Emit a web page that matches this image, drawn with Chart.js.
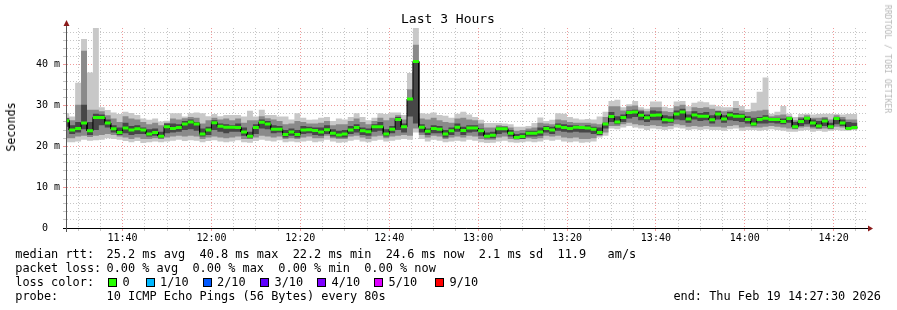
<!DOCTYPE html>
<html>
<head>
<meta charset="utf-8">
<title>Last 3 Hours</title>
<script src="https://cdn.jsdelivr.net/npm/chart.js@4.4.1/dist/chart.umd.min.js"></script>
<style>
  html, body { margin: 0; padding: 0; background: #fff; }
  #wrap { position: relative; width: 897px; height: 310px; overflow: hidden;
          font-family: 'DejaVu Sans Mono', monospace; color: #000; }
  #chart { position: absolute; left: 0; top: 0; }
  .t { position: absolute; white-space: pre; font-size: 11.9px; line-height: 14px; }
  .box { position: absolute; width: 7px; height: 7px; border: 1px solid #000; top: 278px; }
  #title { position: absolute; left: 0; width: 896px; top: 12px; text-align: center;
           font-size: 13px; line-height: 14px; }
  #ylabel { position: absolute; left: 11px; top: 127px; font-size: 11.7px; line-height: 14px;
            transform: translate(-50%, -50%) rotate(-90deg); white-space: pre; }
  #credit { position: absolute; left: 888px; top: 59px; font-size: 8.2px; line-height: 10px;
            color: #b8b8b8; transform: translate(-50%, -50%) rotate(90deg); white-space: pre; }
</style>
</head>
<body>
<div id="wrap">
  <canvas id="chart" width="897" height="310"></canvas>
  <div id="title">Last 3 Hours</div>
  <div id="ylabel">Seconds</div>
  <div id="credit">RRDTOOL / TOBI OETIKER</div>
  <div id="legend"></div>
</div>
<script>
// time axis in minutes of the day; one sample every 80 s
const START_MIN = 686 + 40 / 60;
const STEP_MIN = 80 / 60;
const X_MIN = 687.5;   // 11:27:30
const X_MAX = 867.5;   // 14:27:30
const Y_MAX = 49;

// median rtt per sample (ms)
const medianRtt = [
  26.3,24.0,24.4,25.7,23.8,27.1,27.1,25.7,24.3,23.4,
  24.5,24.0,24.3,24.0,23.0,23.4,22.5,24.8,24.4,24.6,
  25.5,26.0,25.5,23.0,24.0,25.8,24.9,24.7,24.7,24.6,
  23.5,22.5,24.6,25.9,25.5,24.2,24.2,22.9,23.5,22.9,
  24.0,24.1,23.9,23.5,24.1,23.2,22.8,23.0,24.0,24.6,
  23.8,23.6,24.8,24.8,23.0,24.2,26.6,24.8,31.6,40.8,
  24.7,23.7,24.4,24.2,23.0,23.8,24.7,23.9,24.5,24.5,
  23.8,22.5,22.7,24.3,24.3,23.2,22.2,22.4,23.2,23.2,
  23.5,24.4,24.0,24.9,24.6,24.4,24.7,24.6,24.5,24.2,
  23.4,25.5,27.3,26.0,27.1,28.3,28.4,27.6,27.0,27.6,
  27.7,26.5,26.4,27.9,28.4,26.7,27.7,27.4,27.4,26.5,
  27.9,26.7,27.7,27.4,27.4,26.6,25.5,26.6,26.9,26.6,
  26.6,26.1,26.8,24.8,26.1,26.9,25.7,25.0,26.2,24.8,
  26.8,25.7,24.4,24.6
];

// smoke: spread of the pings in each sample (ms)
const smokeOuterHi = [
  28.1,27.3,35.6,46.3,38.1,49.0,29.6,28.9,28.3,27.9,
  28.5,28.2,27.7,26.8,26.5,26.8,26.1,26.3,28.1,28.1,
  27.3,28.1,28.3,28.1,27.4,27.9,27.4,27.7,27.7,27.7,
  27.3,28.7,27.3,29.0,27.7,27.7,27.3,27.3,26.6,28.1,
  27.0,26.5,26.6,27.0,27.2,26.2,26.8,26.6,27.2,28.1,
  27.2,26.4,27.0,28.1,27.9,28.3,28.3,27.7,38.0,49.0,
  28.1,28.0,28.3,27.7,27.5,27.0,28.0,28.5,27.8,27.2,
  26.5,25.7,25.7,25.7,25.6,25.4,24.8,24.8,25.0,25.7,
  27.1,26.2,26.5,28.1,28.0,27.2,26.8,26.6,26.7,26.6,
  27.3,28.5,31.1,31.4,29.6,30.3,31.1,29.6,29.2,31.0,
  31.0,29.7,29.4,31.0,31.1,29.8,30.7,31.0,30.8,30.2,
  29.8,29.6,29.6,31.1,29.9,29.1,30.7,33.4,36.9,28.0,
  28.5,29.9,28.0,27.2,27.9,28.0,27.8,27.9,28.0,28.0,
  27.9,27.8,27.9,27.9
];
const smokeOuterLo = [
  21.0,21.0,21.2,21.6,21.4,21.5,21.6,22.0,21.8,21.6,
  21.3,21.0,21.3,20.8,21.0,21.2,21.0,21.2,21.4,21.6,
  21.3,21.5,21.4,21.0,21.3,21.5,21.2,21.0,21.2,21.5,
  21.0,20.9,21.3,21.6,21.4,21.2,21.5,21.0,21.2,21.0,
  21.2,21.4,21.0,21.2,21.6,21.2,20.9,21.0,21.4,21.6,
  21.2,21.0,21.4,21.6,21.2,21.4,21.6,21.8,21.6,23.4,
  21.8,21.2,21.6,21.4,21.0,21.2,21.4,21.2,21.6,21.4,
  21.0,20.8,20.9,21.2,21.4,21.0,20.9,21.0,21.2,21.0,
  21.2,21.6,21.4,21.6,21.2,21.0,21.2,20.9,21.0,21.2,
  22.2,22.6,24.4,24.2,24.6,25.0,24.6,24.4,24.0,24.4,
  24.2,24.0,24.2,24.6,24.4,24.0,24.2,24.0,24.2,24.0,
  24.0,23.8,24.2,24.4,23.8,24.0,24.0,23.8,24.0,24.2,
  24.0,23.8,23.6,23.6,23.8,24.0,23.6,23.8,23.6,23.8,
  24.0,23.8,23.8,24.0
];
const smokeMidHi = [
  27.0,26.4,30.2,43.4,29.0,29.0,28.6,27.6,26.8,26.0,
  27.4,26.8,26.6,26.0,25.4,25.8,25.2,25.8,26.8,26.6,
  26.9,27.2,27.0,25.6,26.4,27.0,26.6,26.8,26.4,26.8,
  25.8,26.4,26.4,27.4,26.9,26.6,26.2,25.4,25.6,26.2,
  26.0,25.6,25.6,25.8,26.2,25.2,25.4,25.4,26.2,26.8,
  26.0,25.4,26.2,27.0,26.4,27.0,27.6,26.6,34.0,44.9,
  26.8,26.6,27.0,26.4,26.0,25.8,26.8,27.0,26.6,26.4,
  25.6,24.6,24.6,25.2,25.0,24.6,23.8,24.0,24.4,24.6,
  25.8,25.6,25.4,26.6,26.4,26.0,25.8,25.8,25.8,25.6,
  25.4,27.2,29.8,29.8,28.8,29.8,30.0,29.0,28.6,29.6,
  29.6,28.6,28.4,29.8,30.2,28.6,29.6,29.4,29.6,29.2,
  28.8,28.6,28.8,29.4,28.8,28.4,28.6,28.8,29.0,27.4,
  27.6,27.8,27.4,26.4,27.2,27.6,27.0,27.0,27.2,26.6,
  27.6,27.2,26.6,26.6
];
const smokeMidLo = [
  22.0,22.0,22.4,22.6,22.3,22.6,22.8,23.0,22.8,22.4,
  22.2,21.8,22.2,21.8,21.8,22.0,21.8,22.2,22.4,22.6,
  22.4,22.6,22.4,21.8,22.2,22.4,22.2,22.0,22.2,22.4,
  21.8,21.8,22.2,22.6,22.4,22.2,22.4,21.8,22.0,21.8,
  22.2,22.4,22.0,22.0,22.6,22.0,21.8,21.8,22.4,22.6,
  22.2,21.8,22.4,22.6,22.0,22.4,22.6,22.8,22.6,24.4,
  22.8,22.2,22.6,22.4,21.8,22.2,22.4,22.2,22.6,22.4,
  21.8,21.6,21.6,22.2,22.4,21.8,21.6,21.8,22.0,21.8,
  22.0,22.6,22.4,22.6,22.2,22.0,22.2,21.8,21.8,22.0,
  22.6,23.4,25.0,25.0,25.4,25.8,25.4,25.2,25.0,25.2,
  25.0,24.8,25.0,25.4,25.2,24.8,25.0,24.8,25.0,24.8,
  24.8,24.6,25.0,25.2,24.6,24.8,24.6,24.6,24.8,25.0,
  24.8,24.6,24.4,24.2,24.6,24.8,24.4,24.4,24.4,24.2,
  24.8,24.6,24.2,24.2
];
const smokeInnerHi = [
  26.9,25.2,26.0,30.2,26.0,28.0,27.8,26.6,25.2,24.6,
  25.8,25.0,25.2,24.6,24.2,24.4,23.6,25.6,25.6,25.4,
  26.2,26.6,26.0,24.4,24.8,26.4,25.6,25.4,25.2,25.6,
  24.6,23.6,25.4,26.6,26.2,25.2,25.0,24.0,24.4,24.0,
  25.0,24.8,24.6,24.6,25.2,24.2,23.8,24.0,25.0,25.4,
  24.6,24.4,25.4,26.0,24.2,25.0,27.2,25.6,31.6,40.8,
  25.4,24.4,25.2,25.0,24.0,24.6,25.6,24.8,25.2,25.2,
  24.4,23.4,23.6,24.8,24.8,24.0,23.0,23.2,23.8,23.8,
  24.6,25.0,24.8,25.6,25.4,25.2,25.2,25.0,25.2,24.8,
  24.6,25.8,28.4,27.4,27.8,28.8,29.0,28.6,27.8,28.8,
  28.6,27.6,27.4,28.8,29.2,27.8,28.6,28.2,28.4,27.6,
  28.6,27.6,28.4,28.2,28.0,27.4,27.0,27.2,27.6,27.0,
  27.0,26.8,27.2,26.0,26.8,27.2,26.6,26.2,26.8,25.8,
  27.2,26.6,26.0,25.8
];
const smokeInnerLo = [
  24.8,23.0,23.4,24.2,22.8,24.0,25.2,24.6,23.4,22.8,
  23.2,22.8,23.0,23.0,22.4,22.6,22.0,23.2,23.4,23.6,
  24.0,24.2,23.8,22.4,22.8,24.0,23.6,23.2,23.6,23.6,
  22.6,22.0,23.0,24.4,24.2,23.2,23.4,22.2,22.6,22.2,
  23.0,23.2,22.8,22.6,23.0,22.4,22.2,22.2,23.0,23.4,
  22.8,22.6,23.6,23.8,22.4,23.2,24.0,23.4,27.3,25.6,
  23.4,22.8,23.2,23.2,22.2,22.8,23.6,22.8,23.4,23.6,
  22.6,22.0,22.0,23.0,23.4,22.4,21.8,21.8,22.4,22.4,
  22.6,23.4,23.0,23.8,23.6,23.4,23.6,23.4,23.4,23.0,
  22.8,24.4,26.0,25.4,26.0,26.8,27.2,26.4,26.0,26.4,
  26.4,25.6,25.8,26.6,26.4,25.8,26.6,26.2,26.4,25.6,
  26.6,25.8,26.4,26.2,26.0,25.6,25.0,25.6,25.6,25.8,
  25.6,25.4,25.8,24.4,25.0,25.4,24.8,24.4,25.0,24.4,
  25.4,25.0,24.3,24.3
];

// legend
const lossLabels = ['0', '1/10', '2/10', '3/10', '4/10', '5/10', '9/10'];
const lossColors = ['#26ff00', '#00b8ff', '#0059ff', '#5e00ff', '#7e00ff', '#dd00ff', '#ff0000'];
const statsLine = '25.2 ms avg  40.8 ms max  22.2 ms min  24.6 ms now  2.1 ms sd  11.9   am/s';
const lossLine = '0.00 % avg  0.00 % max  0.00 % min  0.00 % now';
const probeLine = '10 ICMP Echo Pings (56 Bytes) every 80s';
const endLine = 'end: Thu Feb 19 14:27:30 2026';

const MINOR_GRID = '#c6c6c6';
const MAJOR_GRID = '#f09a9a';
const MONO = "'DejaVu Sans Mono', monospace";

function stepLine(values) {
  const pts = [];
  values.forEach((v, i) => {
    const t0 = START_MIN + i * STEP_MIN;
    pts.push({ x: t0, y: v }, { x: t0 + STEP_MIN, y: v });
  });
  return pts;
}

function medianDashes(values) {
  const pts = [];
  values.forEach((v, i) => {
    const t0 = START_MIN + i * STEP_MIN;
    pts.push({ x: t0, y: v }, { x: t0 + STEP_MIN, y: v }, { x: t0 + STEP_MIN, y: null });
  });
  return pts;
}

function band(label, values, color, fill) {
  return {
    label, data: stepLine(values), fill,
    backgroundColor: color, borderColor: 'transparent', borderWidth: 0,
    pointRadius: 0, tension: 0
  };
}

function hhmm(m) {
  const h = Math.floor(m / 60), mm = Math.round(m % 60);
  return String(h).padStart(2, '0') + ':' + String(mm).padStart(2, '0');
}

const axisDecor = {
  id: 'axisDecor',
  afterDatasetsDraw(chart) {
    const { ctx, chartArea: a } = chart;
    ctx.save();
    ctx.lineWidth = 1;
    ctx.strokeStyle = '#000';
    ctx.beginPath();
    ctx.moveTo(a.left - 4, a.bottom + 0.5);
    ctx.lineTo(a.right + 3, a.bottom + 0.5);
    ctx.stroke();
    ctx.strokeStyle = '#555';
    ctx.beginPath();
    ctx.moveTo(a.left - 0.5, a.bottom + 4);
    ctx.lineTo(a.left - 0.5, a.top - 3);
    ctx.stroke();
    ctx.fillStyle = '#8b1a1a';
    ctx.beginPath();
    ctx.moveTo(a.left - 0.5, a.top - 8);
    ctx.lineTo(a.left - 3.5, a.top - 2);
    ctx.lineTo(a.left + 2.5, a.top - 2);
    ctx.closePath();
    ctx.fill();
    ctx.beginPath();
    ctx.moveTo(a.right + 6, a.bottom + 0.5);
    ctx.lineTo(a.right + 1, a.bottom - 2.5);
    ctx.lineTo(a.right + 1, a.bottom + 3.5);
    ctx.closePath();
    ctx.fill();
    ctx.restore();
  }
};

new Chart(document.getElementById('chart'), {
  type: 'line',
  data: {
    datasets: [
      { label: 'median', data: medianDashes(medianRtt), borderColor: '#26ff00', borderWidth: 3,
        borderCapStyle: 'butt', pointRadius: 0, spanGaps: false, fill: false },
      { label: 'median step', data: stepLine(medianRtt), borderColor: '#000', borderWidth: 1,
        pointRadius: 0, fill: false },
      band('inner hi', smokeInnerHi, '#474747', '+1'),
      band('inner lo', smokeInnerLo, 'transparent', false),
      band('mid hi', smokeMidHi, '#8a8a8a', '+1'),
      band('mid lo', smokeMidLo, 'transparent', false),
      band('outer hi', smokeOuterHi, '#c8c8c8', '+1'),
      band('outer lo', smokeOuterLo, 'transparent', false)
    ]
  },
  options: {
    responsive: false,
    devicePixelRatio: 1,
    animation: false,
    events: [],
    layout: { padding: { top: 28, right: 30, left: 0, bottom: 0 } },
    plugins: { legend: { display: false }, tooltip: { enabled: false }, title: { display: false } },
    scales: {
      x: {
        type: 'linear', min: X_MIN, max: X_MAX,
        afterFit: (s) => { s.height = 82; },
        afterBuildTicks: (s) => {
          const ticks = [];
          for (let m = 690; m < X_MAX; m += 5) ticks.push({ value: m });
          s.ticks = ticks;
        },
        border: { display: false, dash: [1, 2] },
        grid: {
          color: (c) => (c.tick && c.tick.value % 20 === 0 ? MAJOR_GRID : MINOR_GRID),
          tickLength: 3, lineWidth: 1
        },
        ticks: {
          autoSkip: false, maxRotation: 0, padding: 1, color: '#000',
          font: { family: MONO, size: 10 },
          callback: (v) => (v % 20 === 0 ? hhmm(v) : '')
        }
      },
      y: {
        type: 'linear', min: 0, max: Y_MAX,
        afterFit: (s) => { s.width = 67; },
        afterBuildTicks: (s) => {
          const ticks = [];
          for (let v = 0; v <= 48; v += 2) ticks.push({ value: v });
          s.ticks = ticks;
        },
        border: { display: false, dash: [1, 2] },
        grid: {
          color: (c) => (c.tick && c.tick.value % 10 === 0 ? MAJOR_GRID : MINOR_GRID),
          tickLength: 4, lineWidth: 1
        },
        ticks: {
          autoSkip: false, padding: 3, color: '#000',
          font: { family: MONO, size: 10 },
          callback: (v) => (v % 10 === 0 ? (v === 0 ? '0  ' : v + ' m') : '')
        }
      }
    }
  },
  plugins: [axisDecor]
});

// text legend under the graph
const legend = document.getElementById('legend');
function addText(txt, left, top) {
  const d = document.createElement('div');
  d.className = 't';
  d.textContent = txt;
  d.style.left = left + 'px';
  d.style.top = top + 'px';
  legend.appendChild(d);
  return d;
}
addText('median rtt:', 15.3, 247);
addText(statsLine, 106.5, 247);
addText('packet loss:', 15.3, 261);
addText(lossLine, 106.5, 261);
addText('loss color:', 15.3, 275);
const boxLeft = [108, 145.5, 202.5, 260, 317, 374, 435];
lossLabels.forEach((lab, i) => {
  const b = document.createElement('div');
  b.className = 'box';
  b.style.left = boxLeft[i] + 'px';
  b.style.background = lossColors[i];
  legend.appendChild(b);
  addText(lab, boxLeft[i] + 14.5, 275);
});
addText('probe:', 15.3, 289);
addText(probeLine, 106.5, 289);
const endDiv = addText(endLine, 0, 289);
endDiv.style.left = 'auto';
endDiv.style.right = (897 - 881) + 'px';
</script>
</body>
</html>
